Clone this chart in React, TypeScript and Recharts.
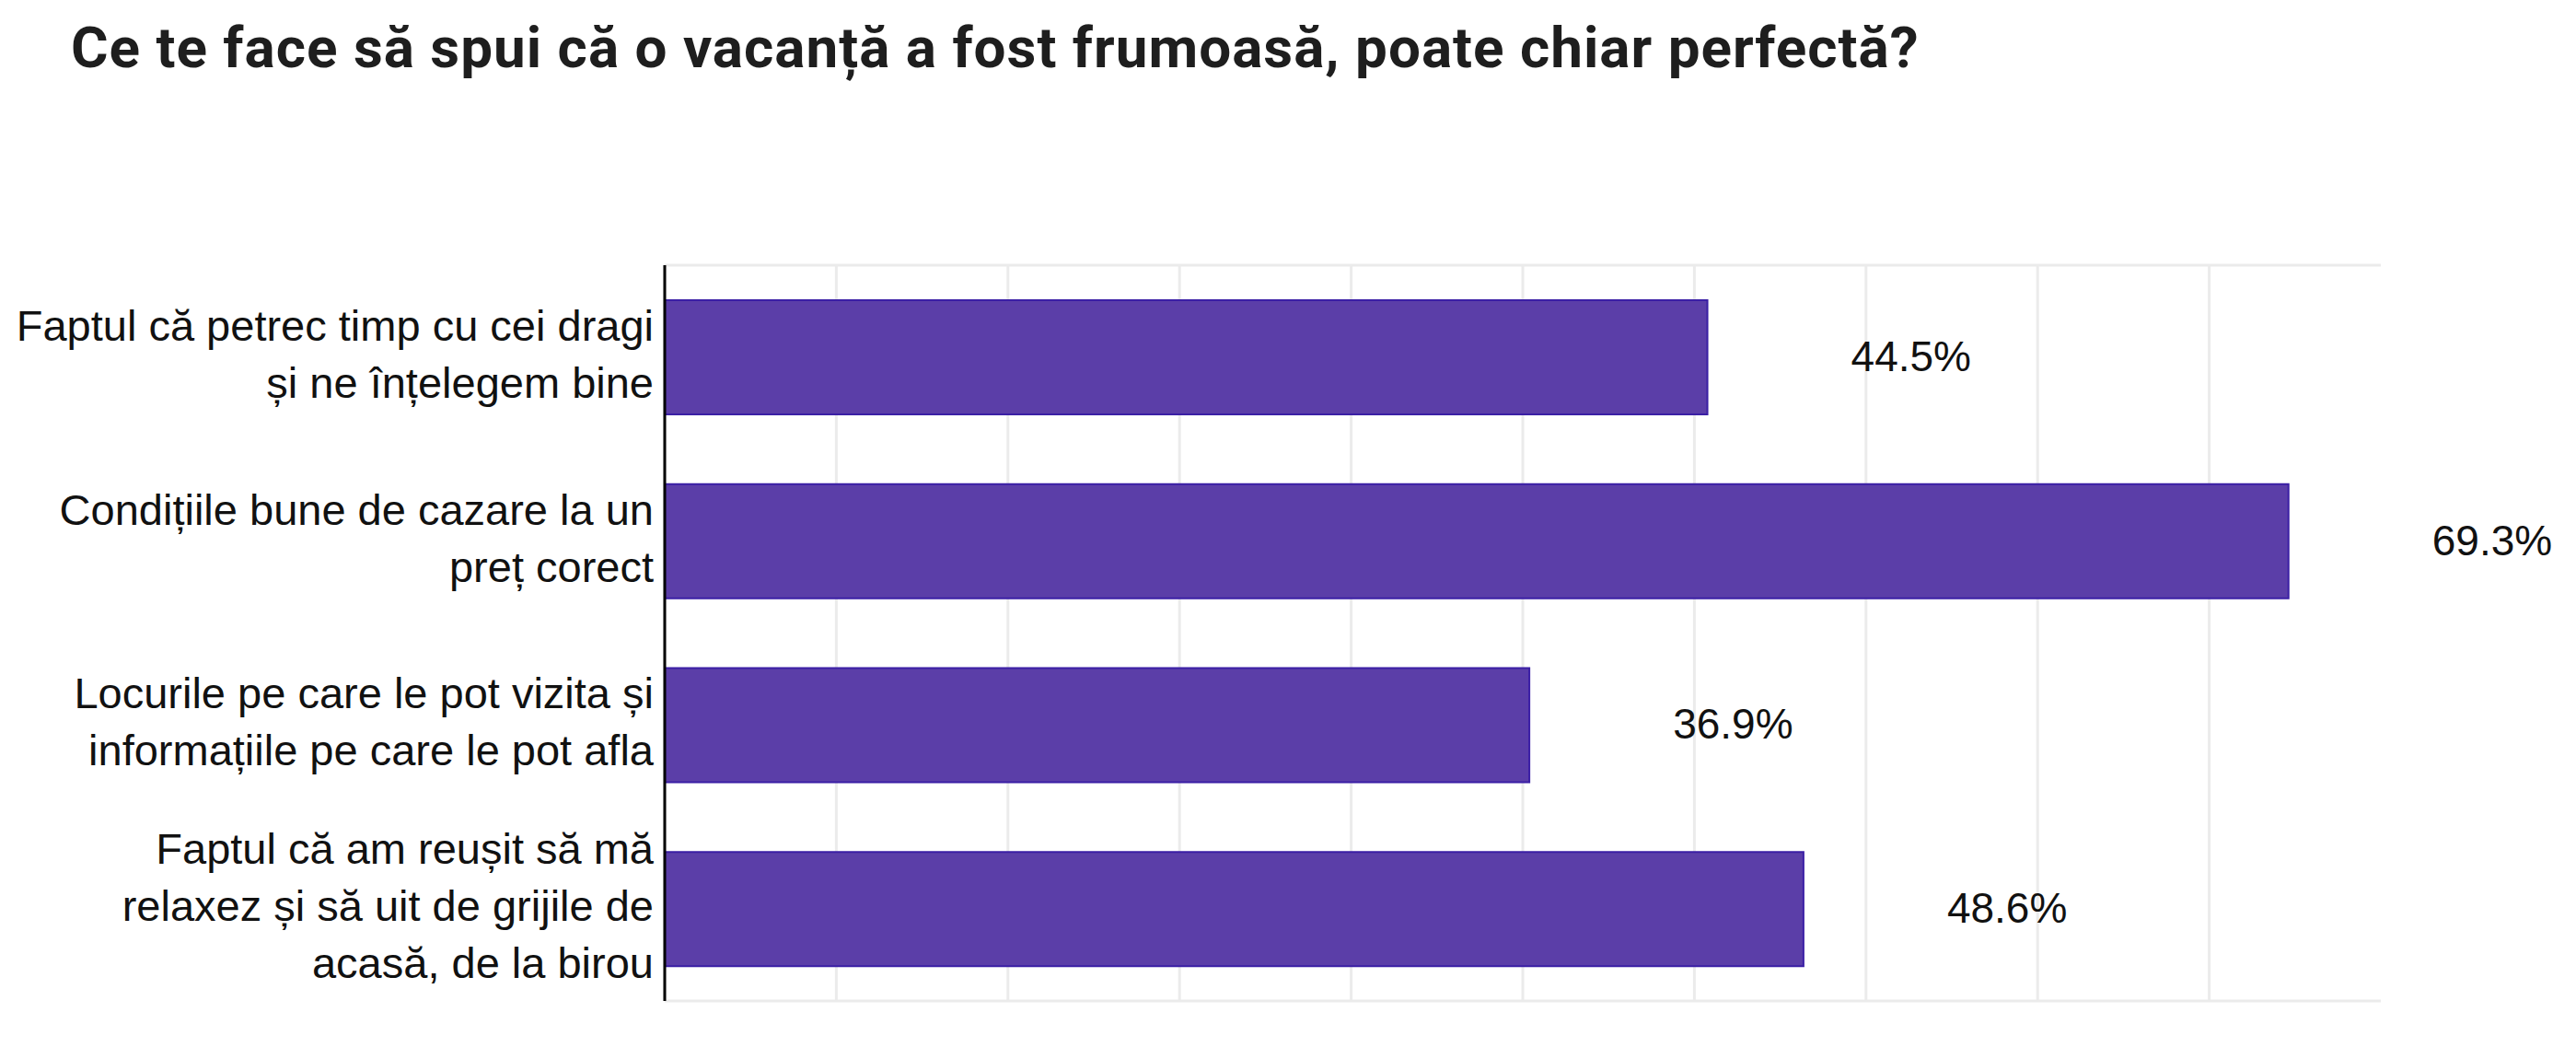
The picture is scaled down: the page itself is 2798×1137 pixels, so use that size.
import React from "react";
import { BarChart, Bar, XAxis, YAxis, CartesianGrid, LabelList } from "recharts";

const TITLE = "Ce te face să spui că o vacanță a fost frumoasă, poate chiar perfectă?";

const categories = [
  "Faptul că petrec timp cu cei dragi\nși ne înțelegem bine",
  "Condițiile bune de cazare la un\npreț corect",
  "Locurile pe care le pot vizita și\ninformațiile pe care le pot afla",
  "Faptul că am reușit să mă\nrelaxez și să uit de grijile de\nacasă, de la birou",
];

const values = [44.5, 69.3, 36.9, 48.6];

const X_MAX = 73.24;
const gridTicks = [0, 7.324, 14.648, 21.972, 29.296, 36.62, 43.944, 51.268, 58.592, 65.916];

const data = categories.map((name, i) => ({ name, value: values[i] }));

const LABEL_FONT = "'Liberation Sans', Arial, Helvetica, sans-serif";

const CategoryTick = (props: any) => {
  const { x, y, payload } = props;
  const lines: string[] = String(payload.value).split("\n");
  const n = lines.length;
  return (
    <g>
      {lines.map((line, i) => (
        <text
          key={i}
          x={x}
          y={y + (i - (n - 1) / 2) * 62 + 13}
          textAnchor="end"
          fontFamily={LABEL_FONT}
          fontSize={47}
          fill="#111"
        >
          {line}
        </text>
      ))}
    </g>
  );
};

const EmptyTick = () => <g />;

const ValueLabel = (props: any) => {
  const { x, y, width, height, value } = props;
  return (
    <text
      x={Number(x) + Number(width) + 156}
      y={Number(y) + Number(height) / 2 + 15}
      textAnchor="start"
      fontFamily={LABEL_FONT}
      fontSize={46}
      fill="#111"
    >
      {Number(value).toFixed(1)}%
    </text>
  );
};

// vertical grid positions derived from the plot area and the x domain (same mapping as the axis scale)
const verticalGen = (p: any) =>
  gridTicks.map((t) => p.offset.left + (t / X_MAX) * p.offset.width);

const horizontalGen = (p: any) => [p.offset.top, p.offset.top + p.offset.height];

export default function App() {
  return (
    <div style={{ position: "absolute", left: 0, top: 0, width: 2798, height: 1137, background: "#fff" }}>
      <svg width={2798} height={130} style={{ position: "absolute", left: 0, top: 0 }}>
        <text
          x={77}
          y={73}
          fontFamily="Roboto, 'Liberation Sans', Arial, sans-serif"
          fontWeight={700}
          fontSize={62}
          letterSpacing={1}
          fill="#1e1e1e"
        >
          {TITLE}
        </text>
      </svg>
      <div style={{ position: "absolute", left: 0, top: 0 }}>
        <BarChart
          width={2798}
          height={1137}
          data={data}
          layout="vertical"
          margin={{ top: 288, right: 212, bottom: 50, left: 0 }}
          barCategoryGap="19%"
        >
          <CartesianGrid
            stroke="#ebebeb"
            strokeWidth={3}
            vertical={true}
            horizontal={true}
            verticalCoordinatesGenerator={verticalGen}
            horizontalCoordinatesGenerator={horizontalGen}
          />
          <XAxis
            type="number"
            domain={[0, X_MAX]}
            ticks={gridTicks}
            allowDataOverflow={true}
            axisLine={false}
            tickLine={false}
            tick={<EmptyTick />}
            height={0}
          />
          <YAxis
            type="category"
            dataKey="name"
            width={722}
            interval={0}
            axisLine={{ stroke: "#000", strokeWidth: 3 }}
            tickLine={false}
            tickSize={0}
            tickMargin={12}
            tick={<CategoryTick />}
          />
          <Bar
            dataKey="value"
            fill="#5b3ea8"
            stroke="#3b1fa5"
            strokeWidth={2}
            isAnimationActive={false}
          >
            <LabelList dataKey="value" content={<ValueLabel />} />
          </Bar>
        </BarChart>
      </div>
    </div>
  );
}
